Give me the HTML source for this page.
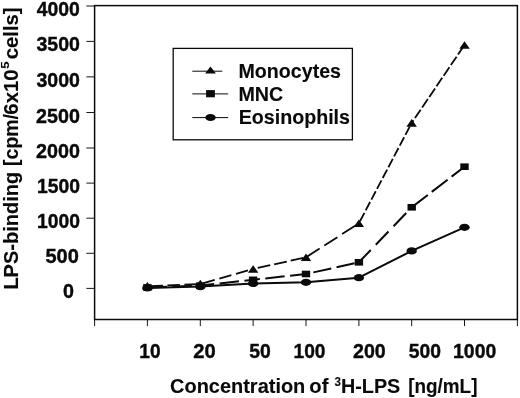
<!DOCTYPE html>
<html><head><meta charset="utf-8"><title>LPS-binding</title>
<style>
html,body{margin:0;padding:0;background:#fff;}
body{width:520px;height:398px;overflow:hidden;}
svg{display:block;}
text{font-family:"Liberation Sans",Arial,Helvetica,sans-serif;font-weight:bold;fill:#0a0a0a;stroke:#0a0a0a;stroke-width:0.12px;}
text.d{stroke-width:0.4px;}
</style></head><body>
<svg width="520" height="398" viewBox="0 0 520 398">
<rect width="520" height="398" fill="#fff"/>
<g fill="none" stroke="#0a0a0a" stroke-width="1.5">
<rect x="94.6" y="5.6" width="422.8" height="313.9"/>
<line x1="86.4" y1="288.4" x2="94.6" y2="288.4" stroke-width="0.95"/>
<line x1="86.4" y1="253.3" x2="94.6" y2="253.3" stroke-width="0.95"/>
<line x1="86.4" y1="218.2" x2="94.6" y2="218.2" stroke-width="0.95"/>
<line x1="86.4" y1="183.1" x2="94.6" y2="183.1" stroke-width="0.95"/>
<line x1="86.4" y1="148.0" x2="94.6" y2="148.0" stroke-width="0.95"/>
<line x1="86.4" y1="112.5" x2="94.6" y2="112.5" stroke-width="0.95"/>
<line x1="86.4" y1="76.9" x2="94.6" y2="76.9" stroke-width="0.95"/>
<line x1="86.4" y1="41.4" x2="94.6" y2="41.4" stroke-width="0.95"/>
<line x1="86.4" y1="6.0" x2="94.6" y2="6.0" stroke-width="0.95"/>
<line x1="94.6" y1="319.5" x2="94.6" y2="326.1" stroke-width="0.95"/>
<line x1="147.4" y1="319.5" x2="147.4" y2="326.1" stroke-width="0.95"/>
<line x1="200.3" y1="319.5" x2="200.3" y2="326.1" stroke-width="0.95"/>
<line x1="253.1" y1="319.5" x2="253.1" y2="326.1" stroke-width="0.95"/>
<line x1="306.0" y1="319.5" x2="306.0" y2="326.1" stroke-width="0.95"/>
<line x1="358.9" y1="319.5" x2="358.9" y2="326.1" stroke-width="0.95"/>
<line x1="411.7" y1="319.5" x2="411.7" y2="326.1" stroke-width="0.95"/>
<line x1="464.5" y1="319.5" x2="464.5" y2="326.1" stroke-width="0.95"/>
<line x1="517.4" y1="319.5" x2="517.4" y2="326.1" stroke-width="0.95"/>
</g>
<g fill="none" stroke="#0a0a0a" stroke-width="2" stroke-linejoin="round">
<line x1="147.4" y1="286.3" x2="200.3" y2="284.0" stroke-dasharray="12.5 4.5" stroke-dashoffset="14.0" stroke-width="1.8"/>
<line x1="200.3" y1="284.0" x2="253.1" y2="269.0" stroke-dasharray="12.5 4.8" stroke-dashoffset="14.8" stroke-width="1.8"/>
<line x1="253.1" y1="269.0" x2="306.0" y2="257.3" stroke-dasharray="12.9 4.0" stroke-dashoffset="12.2" stroke-width="1.8"/>
<line x1="306.0" y1="257.3" x2="358.9" y2="223.3" stroke-dasharray="15.5 5.6" stroke-dashoffset="20.4" stroke-width="1.8"/>
<line x1="411.7" y1="122.9" x2="358.9" y2="223.3" stroke-dasharray="9.5 2.7" stroke-dashoffset="8.2" stroke-width="1.8"/>
<line x1="464.5" y1="45.0" x2="411.7" y2="122.9" stroke-dasharray="10.2 2.6" stroke-dashoffset="11.5" stroke-width="1.8"/>
<line x1="147.4" y1="287.4" x2="200.3" y2="285.6" stroke-dasharray="19.5 5.5" stroke-dashoffset="0.0" stroke-width="2"/>
<line x1="200.3" y1="285.6" x2="253.1" y2="279.8" stroke-dasharray="19.5 5.5" stroke-dashoffset="5.6" stroke-width="2"/>
<line x1="253.1" y1="279.8" x2="306.0" y2="274.0" stroke-dasharray="19.4 5.5" stroke-dashoffset="12.6" stroke-width="2"/>
<line x1="306.0" y1="274.0" x2="358.9" y2="262.3" stroke-dasharray="18.4 5.4" stroke-dashoffset="16.3" stroke-width="2"/>
<line x1="358.9" y1="262.3" x2="411.7" y2="207.3" stroke-dasharray="18.3 7.3" stroke-dashoffset="1.2" stroke-width="2"/>
<line x1="411.7" y1="207.3" x2="464.5" y2="166.7" stroke-dasharray="20.0 5.0" stroke-dashoffset="24.7" stroke-width="2"/>
<polyline points="147.4,287.9 200.3,286.6 253.1,283.5 306.0,282.3 358.9,277.7 411.7,250.9 464.5,227.3"/>
</g>
<g fill="#0a0a0a">
<polygon points="147.4,282.0 152.7,289.6 142.2,289.6"/>
<polygon points="200.3,279.7 205.5,287.3 195.0,287.3"/>
<polygon points="253.1,265.2 258.4,272.8 247.9,272.8"/>
<polygon points="306.0,253.5 311.2,261.1 300.8,261.1"/>
<polygon points="358.9,219.5 364.1,227.1 353.6,227.1"/>
<polygon points="411.7,119.1 416.9,126.7 406.4,126.7"/>
<polygon points="464.5,41.2 469.8,48.8 459.3,48.8"/>
<rect x="143.2" y="284.1" width="8.4" height="6.6"/>
<rect x="196.1" y="282.3" width="8.4" height="6.6"/>
<rect x="248.9" y="276.5" width="8.4" height="6.6"/>
<rect x="301.8" y="270.7" width="8.4" height="6.6"/>
<rect x="354.7" y="259.0" width="8.4" height="6.6"/>
<rect x="407.5" y="204.0" width="8.4" height="6.6"/>
<rect x="460.3" y="163.4" width="8.4" height="6.6"/>
<ellipse cx="147.4" cy="287.9" rx="5.2" ry="3.6"/>
<ellipse cx="200.3" cy="286.6" rx="5.2" ry="3.6"/>
<ellipse cx="253.1" cy="283.5" rx="5.2" ry="3.6"/>
<ellipse cx="306.0" cy="282.3" rx="5.2" ry="3.6"/>
<ellipse cx="358.9" cy="277.7" rx="5.2" ry="3.6"/>
<ellipse cx="411.7" cy="250.9" rx="5.2" ry="3.6"/>
<ellipse cx="464.5" cy="227.3" rx="5.2" ry="3.6"/>
</g>
<rect x="173.2" y="48.4" width="179.2" height="91.4" fill="#fff" stroke="#0a0a0a" stroke-width="1.3"/>
<g stroke="#0a0a0a" stroke-width="1">
<line x1="192.3" y1="71.2" x2="222.3" y2="71.2"/>
<line x1="192.3" y1="93.9" x2="228.2" y2="93.9"/>
<line x1="192.3" y1="117.6" x2="228.2" y2="117.6"/>
</g><g fill="#0a0a0a">
<polygon points="210.5,66.4 215.9,73.6 205.1,73.6"/>
<rect x="206.1" y="90.1" width="8.8" height="7.2"/>
<ellipse cx="210.5" cy="117.5" rx="5.2" ry="3.6"/>
</g>
<text x="238.50" y="77.7" font-size="20" textLength="102.49" lengthAdjust="spacingAndGlyphs">Monocytes</text>
<text x="238.45" y="100.8" font-size="20" textLength="44.90" lengthAdjust="spacingAndGlyphs">MNC</text>
<text x="238.66" y="123.9" font-size="20" textLength="111.36" lengthAdjust="spacingAndGlyphs">Eosinophils</text>
<text x="36.75" y="16.0" font-size="20" textLength="43.17" lengthAdjust="spacingAndGlyphs" class="d">4000</text>
<text x="36.44" y="51.4" font-size="20" textLength="43.52" lengthAdjust="spacingAndGlyphs" class="d">3500</text>
<text x="36.43" y="86.9" font-size="20" textLength="43.50" lengthAdjust="spacingAndGlyphs" class="d">3000</text>
<text x="36.11" y="122.5" font-size="20" textLength="43.81" lengthAdjust="spacingAndGlyphs" class="d">2500</text>
<text x="35.99" y="157.6" font-size="20" textLength="43.88" lengthAdjust="spacingAndGlyphs" class="d">2000</text>
<text x="36.99" y="192.7" font-size="20" textLength="42.99" lengthAdjust="spacingAndGlyphs" class="d">1500</text>
<text x="36.99" y="227.8" font-size="20" textLength="42.99" lengthAdjust="spacingAndGlyphs" class="d">1000</text>
<text x="45.48" y="262.9" font-size="20" textLength="33.36" lengthAdjust="spacingAndGlyphs" class="d">500</text>
<text x="63.10" y="298.0" font-size="20" textLength="10.97" lengthAdjust="spacingAndGlyphs" class="d">0</text>
<text x="139.34" y="357.6" font-size="20" textLength="21.25" lengthAdjust="spacingAndGlyphs" class="d">10</text>
<text x="193.29" y="357.6" font-size="20" textLength="22.46" lengthAdjust="spacingAndGlyphs" class="d">20</text>
<text x="249.28" y="357.6" font-size="20" textLength="21.58" lengthAdjust="spacingAndGlyphs" class="d">50</text>
<text x="293.50" y="357.6" font-size="20" textLength="31.99" lengthAdjust="spacingAndGlyphs" class="d">100</text>
<text x="353.02" y="357.6" font-size="20" textLength="32.71" lengthAdjust="spacingAndGlyphs" class="d">200</text>
<text x="408.68" y="357.6" font-size="20" textLength="32.22" lengthAdjust="spacingAndGlyphs" class="d">500</text>
<text x="453.09" y="357.6" font-size="20" textLength="43.14" lengthAdjust="spacingAndGlyphs" class="d">1000</text>
<text transform="translate(17.5,289.62) rotate(-90)" font-size="20" textLength="117.79" lengthAdjust="spacingAndGlyphs">LPS-binding</text>
<text transform="translate(17.5,165.92) rotate(-90)" font-size="20" textLength="51.94" lengthAdjust="spacingAndGlyphs">[cpm/</text>
<text transform="translate(17.5,114.63) rotate(-90)" font-size="20" textLength="45.33" lengthAdjust="spacingAndGlyphs">6x10</text>
<text transform="translate(8.7,68.86) rotate(-90)" font-size="10" textLength="7.26" lengthAdjust="spacingAndGlyphs">5</text>
<text transform="translate(17.5,59.22) rotate(-90)" font-size="20" textLength="51.85" lengthAdjust="spacingAndGlyphs">cells]</text>
<text x="170.04" y="392.6" font-size="20" textLength="135.29" lengthAdjust="spacingAndGlyphs">Concentration</text>
<text x="309.38" y="392.6" font-size="20" textLength="19.05" lengthAdjust="spacingAndGlyphs">of</text>
<text x="334.55" y="385.7" font-size="12" textLength="6.46" lengthAdjust="spacingAndGlyphs">3</text>
<text x="340.98" y="392.6" font-size="20" textLength="59.27" lengthAdjust="spacingAndGlyphs">H-LPS</text>
<text x="408.18" y="392.6" font-size="20" textLength="69.25" lengthAdjust="spacingAndGlyphs">[ng/mL]</text>
</svg></body></html>
